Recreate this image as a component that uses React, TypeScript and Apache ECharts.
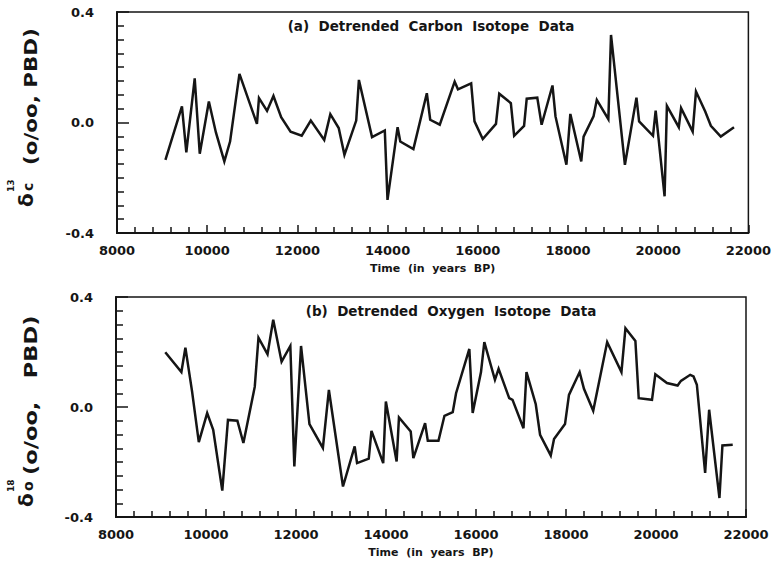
import React, { useEffect, useRef } from "react";
import * as echarts from "echarts";

// (a) Detrended carbon isotope data
const YEARS_C = [
  9074, 9440, 9537, 9723, 9835, 10037, 10193, 10380, 10507, 10715, 11103, 11148, 11327, 11469,
  11640, 11849, 12096, 12297, 12595, 12730, 12916, 13043, 13304, 13364, 13655, 13938, 13998,
  14222, 14281, 14572, 14870, 14945, 15157, 15487, 15560, 15853, 15927, 16110, 16403, 16476,
  16733, 16806, 17026, 17085, 17319, 17415, 17656, 17723, 17965, 18052, 18294, 18346, 18566,
  18639, 18895, 18954, 19262, 19518, 19577, 19885, 19944, 20142, 20193, 20457, 20508, 20765,
  20838, 21043, 21168, 21388, 21681,
];
const D13C = [
  -0.135, 0.058, -0.108, 0.16, -0.113, 0.076, -0.036, -0.141, -0.069, 0.176, -0.005, 0.088,
  0.042, 0.096, 0.019, -0.033, -0.048, 0.007, -0.063, 0.03, -0.02, -0.117, 0.007, 0.154, -0.053,
  -0.029, -0.28, -0.017, -0.069, -0.096, 0.106, 0.01, -0.008, 0.148, 0.12, 0.142, 0.004, -0.06,
  -0.005, 0.104, 0.07, -0.048, -0.012, 0.086, 0.09, -0.008, 0.134, 0.022, -0.153, 0.031, -0.141,
  -0.051, 0.022, 0.082, 0.012, 0.317, -0.153, 0.09, 0.004, -0.048, 0.043, -0.267, 0.06, -0.017,
  0.052, -0.033, 0.112, 0.04, -0.012, -0.051, -0.017,
];

// (b) Detrended oxygen isotope data
const YEARS_O = [
  9095, 9453, 9542, 9691, 9840, 10026, 10160, 10362, 10488, 10697, 10831, 11084, 11166, 11367,
  11494, 11680, 11874, 11963, 12112, 12299, 12597, 12731, 13044, 13304, 13357, 13617, 13677,
  13938, 13997, 14236, 14288, 14549, 14608, 14869, 14929, 15166, 15299, 15483, 15557, 15852,
  15926, 16111, 16185, 16421, 16502, 16738, 16812, 17055, 17122, 17328, 17424, 17661, 17734,
  17978, 18066, 18303, 18399, 18605, 18915, 19232, 19321, 19542, 19616, 19911, 19985, 20244,
  20480, 20554, 20760, 20834, 20908, 21092, 21181, 21410, 21476, 21705,
];
const D18O = [
  0.199, 0.127, 0.216, 0.056, -0.128, -0.022, -0.083, -0.304, -0.047, -0.05, -0.131, 0.074,
  0.252, 0.192, 0.317, 0.165, 0.222, -0.216, 0.222, -0.062, -0.149, 0.062, -0.289, -0.143,
  -0.204, -0.188, -0.087, -0.204, 0.02, -0.198, -0.038, -0.089, -0.186, -0.059, -0.123, -0.123,
  -0.032, -0.019, 0.05, 0.211, -0.022, 0.127, 0.236, 0.099, 0.139, 0.032, 0.026, -0.077, 0.127,
  0.01, -0.101, -0.176, -0.116, -0.062, 0.044, 0.127, 0.066, -0.014, 0.236, 0.127, 0.286, 0.24,
  0.032, 0.026, 0.119, 0.087, 0.078, 0.095, 0.117, 0.111, 0.081, -0.24, -0.01, -0.331, -0.14,
  -0.137,
];

const X_MIN = 8000;
const X_MAX = 22000;
const X_STEP = 2000;
const X_MINOR_SPLIT = 5;
const Y_MIN = -0.4;
const Y_MAX = 0.4;
const Y_STEP = 0.4;
const Y_MINOR_SPLIT = 8;

const TITLE_A = "(a)  Detrended  Carbon  Isotope  Data";
const TITLE_B = "(b)  Detrended  Oxygen  Isotope  Data";
const X_NAME = "Time  (in  years  BP)";

const FONT = '"DejaVu Sans", sans-serif';
const INK = "#151515";

const LABEL_STYLE = { fontFamily: FONT, fontWeight: "bold", fontSize: 13, color: INK };

function xMain(gridIndex: number) {
  return {
    type: "value",
    gridIndex,
    position: "bottom",
    min: X_MIN,
    max: X_MAX,
    interval: X_STEP,
    name: X_NAME,
    nameLocation: "middle",
    nameGap: 30,
    nameTextStyle: { fontFamily: FONT, fontWeight: "bold", fontSize: 11, color: INK },
    axisLine: { show: true, onZero: false, lineStyle: { color: INK, width: 2 } },
    axisTick: { show: true, inside: true, length: 8, lineStyle: { color: INK, width: 1.5 } },
    minorTick: { show: true, splitNumber: X_MINOR_SPLIT, length: 6, lineStyle: { color: INK, width: 1.5 } },
    axisLabel: { ...LABEL_STYLE, margin: 11, formatter: (v: number) => String(v) },
    splitLine: { show: false },
  };
}

function yMain(gridIndex: number) {
  return {
    type: "value",
    gridIndex,
    position: "left",
    min: Y_MIN,
    max: Y_MAX,
    interval: Y_STEP,
    axisLine: { show: true, onZero: false, lineStyle: { color: INK, width: 2 } },
    axisTick: { show: true, inside: true, length: 12, lineStyle: { color: INK, width: 1.5 } },
    minorTick: { show: true, splitNumber: Y_MINOR_SPLIT, length: 7, lineStyle: { color: INK, width: 1.5 } },
    axisLabel: { ...LABEL_STYLE, margin: 23, formatter: (v: number) => v.toFixed(1) },
    splitLine: { show: false },
  };
}

function yLabel(x: number, y: number, sup: string, sub: string, rest: string, restStart: number, restScale: number) {
  const t = (text: string, lx: number, ly: number, size: number, scaleX = 1) => ({
    type: "text",
    x: lx,
    y: ly,
    scaleX,
    style: {
      text,
      font: `bold ${size}px ${FONT}`,
      fill: INK,
      align: "left",
      verticalAlign: "middle",
      textAlign: "left",
      textVerticalAlign: "middle",
    },
  });
  return {
    type: "group",
    x,
    y,
    rotation: Math.PI / 2,
    children: [
      t("δ", 0, -4, 20),
      t(sup, 15, -19, 9),
      t(sub, 16, -2, 14),
      t(rest, restStart, 1, 18, restScale),
    ],
  };
}

function title(text: string, cx: number, cy: number) {
  return {
    type: "text",
    x: cx,
    y: cy,
    style: {
      text,
      font: `bold 13.5px ${FONT}`,
      fill: INK,
      align: "center",
      verticalAlign: "middle",
      textAlign: "center",
      textVerticalAlign: "middle",
    },
  };
}

export default function App() {
  const ref = useRef<HTMLDivElement>(null);

  useEffect(() => {
    document.body.style.margin = "0";
    if (!ref.current) return;
    const chart = echarts.init(ref.current, undefined, { renderer: "svg" });
    const dataC = YEARS_C.map((yr, i) => [yr, D13C[i]]);
    const dataO = YEARS_O.map((yr, i) => [yr, D18O[i]]);
    chart.setOption({
      animation: false,
      backgroundColor: "#fff",
      grid: [
        { left: 117, top: 12, width: 632, height: 221, show: true, borderColor: INK, borderWidth: 1.5 },
        { left: 116, top: 297, width: 630, height: 220, show: true, borderColor: INK, borderWidth: 1.5 },
      ],
      xAxis: [xMain(0), xMain(1)],
      yAxis: [yMain(0), yMain(1)],
      series: [
        {
          type: "line",
          xAxisIndex: 0,
          yAxisIndex: 0,
          data: dataC,
          showSymbol: false,
          lineStyle: { color: INK, width: 2.5, join: "miter" },
        },
        {
          type: "line",
          xAxisIndex: 1,
          yAxisIndex: 1,
          data: dataO,
          showSymbol: false,
          lineStyle: { color: INK, width: 2.5, join: "miter" },
        },
      ],
      graphic: [
        title(TITLE_A, 431, 26),
        title(TITLE_B, 451, 311),
        yLabel(30, 207, "13", "c", "(o/oo, PBD)", 42, 1.19),
        yLabel(30, 507, "18", "o", "(o/oo,   PBD)", 32, 1.25),
      ],
    });

    return () => chart.dispose();
  }, []);

  return <div ref={ref} style={{ width: 774, height: 561 }} />;
}
